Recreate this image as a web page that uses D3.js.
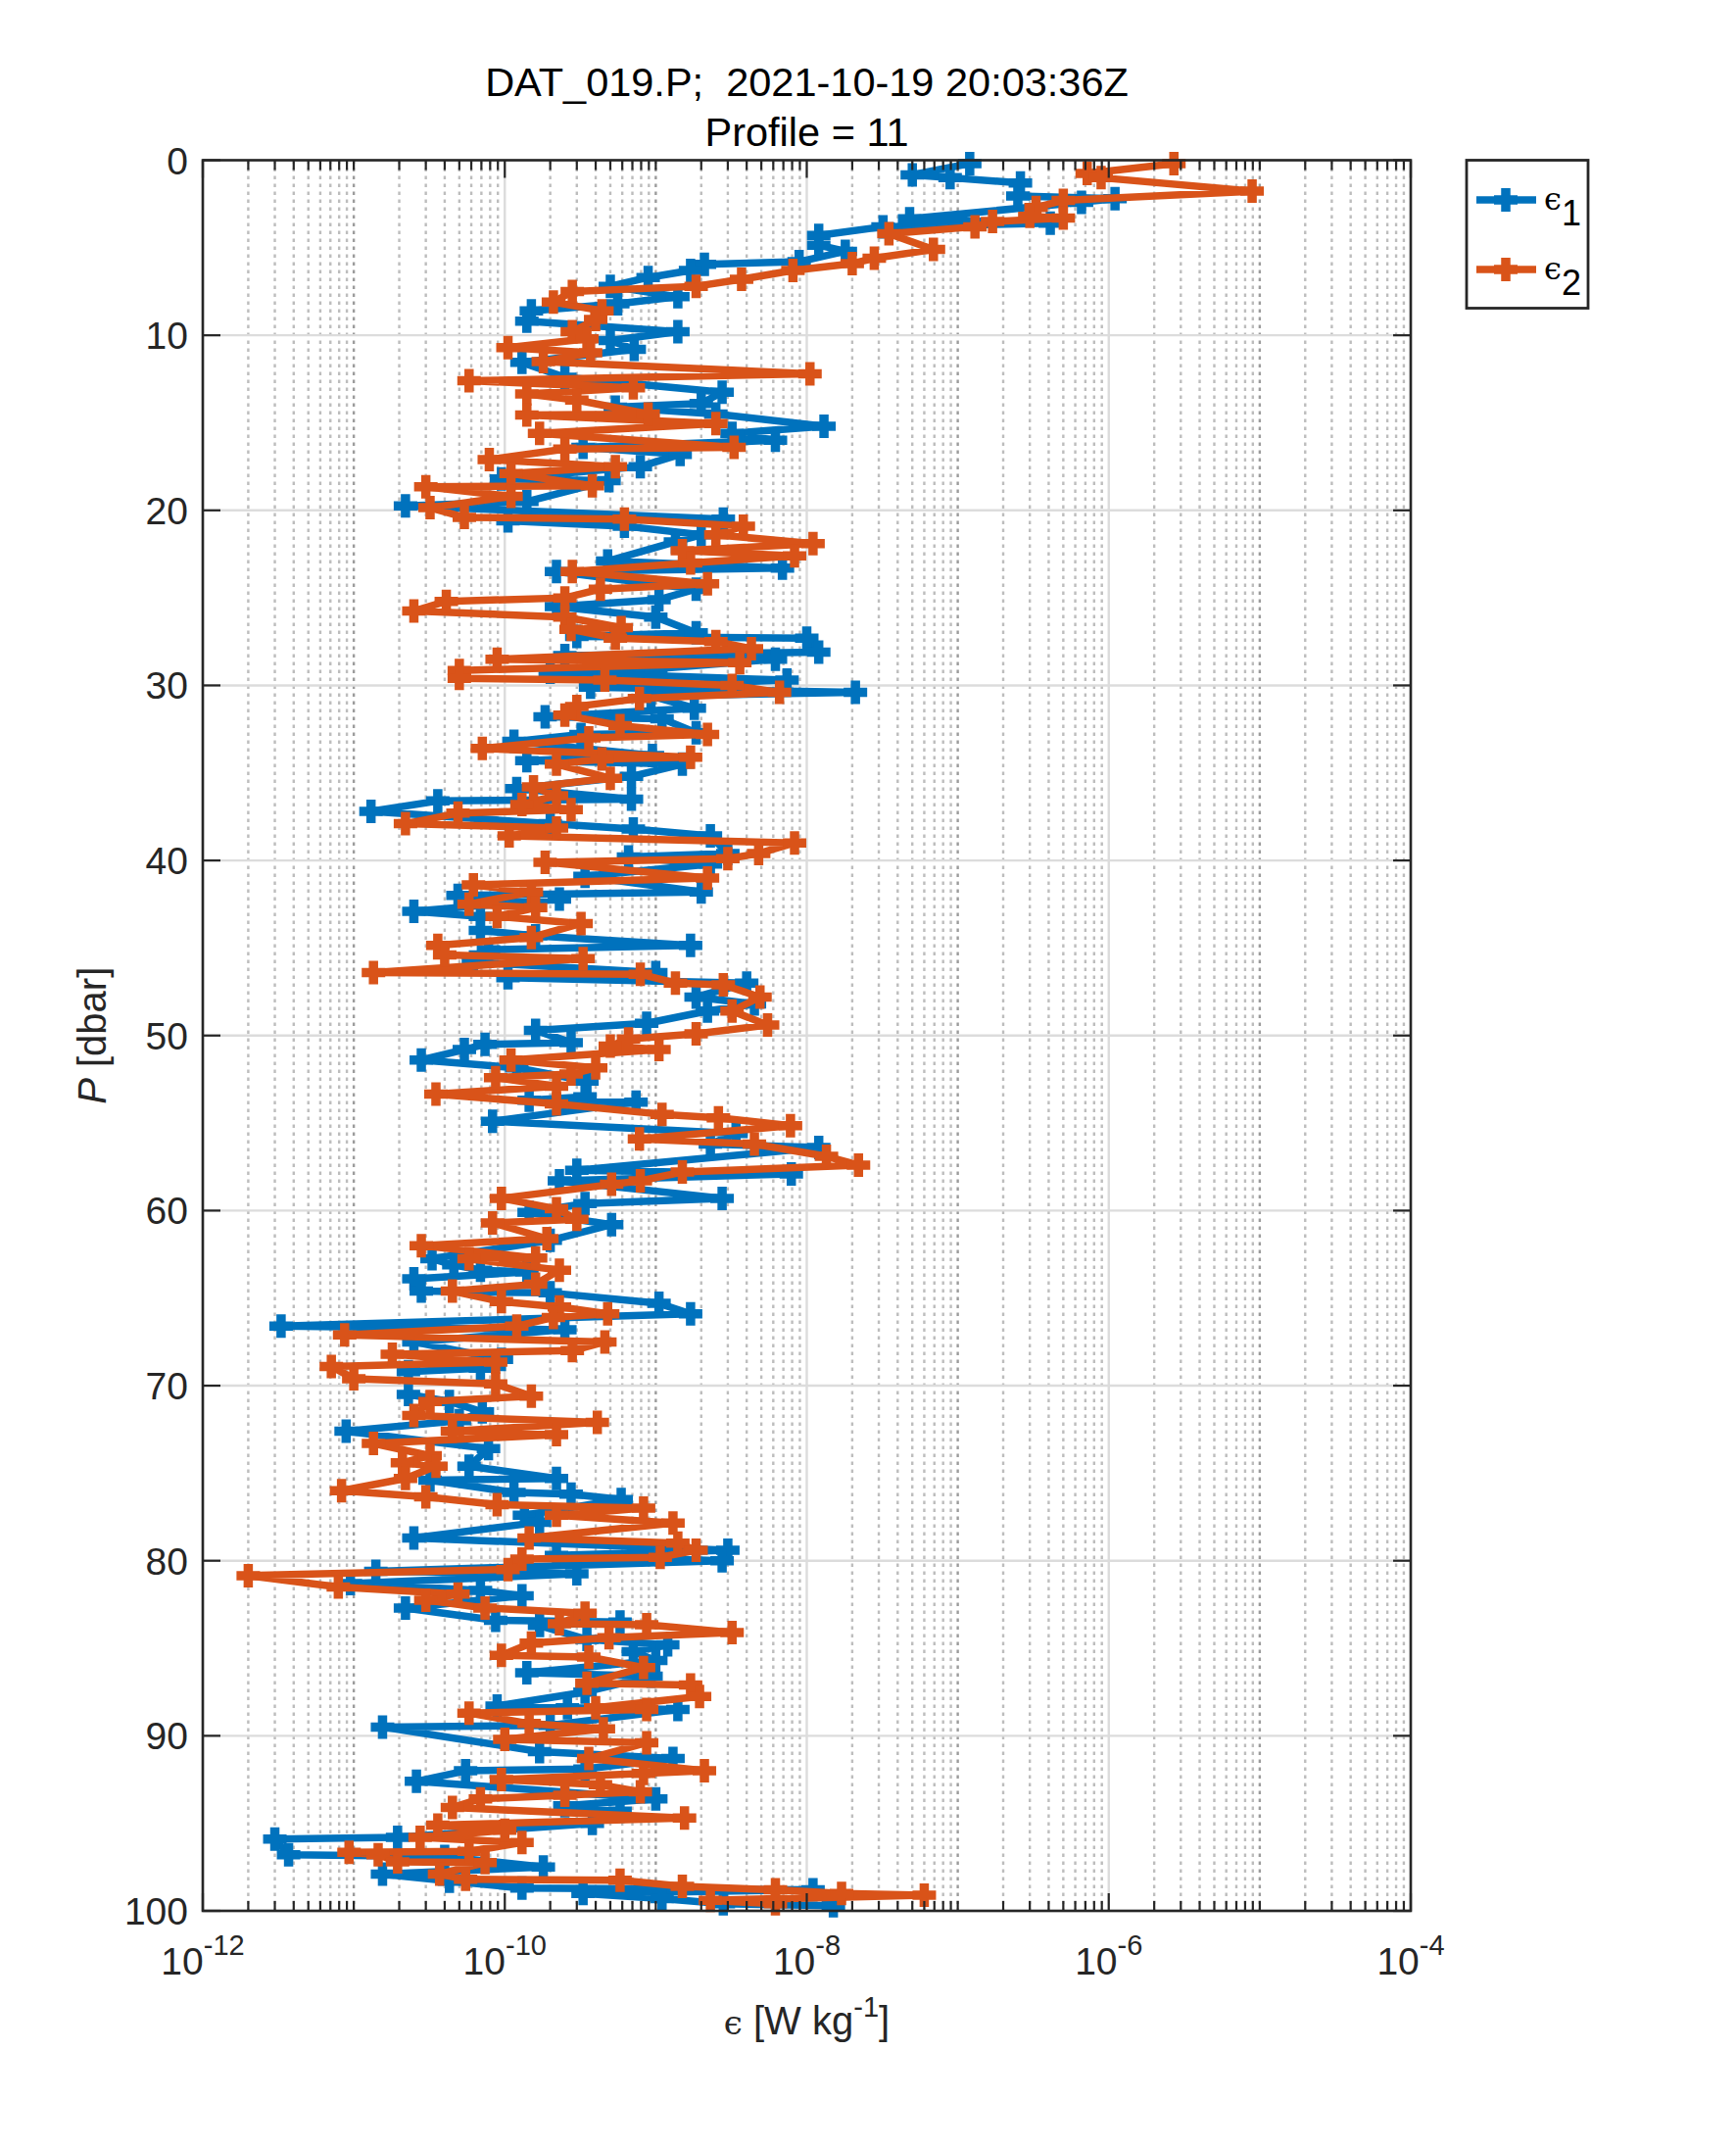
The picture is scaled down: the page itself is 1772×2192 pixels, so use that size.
<!DOCTYPE html>
<html><head><meta charset="utf-8">
<script src="https://cdn.jsdelivr.net/npm/d3@7"></script>
<style>html,body{margin:0;padding:0;background:#fff;} svg{display:block;font-family:"Liberation Sans",Arial,Helvetica,sans-serif;}</style>
</head><body>
<script>
// ---- data ----
const pressure1 = [0.19,0.84,1.0,1.3,2.05,2.2,2.4,3.35,3.6,3.8,4.3,4.85,5.2,5.8,5.95,6.3,6.7,7.2,7.8,8.2,8.6,9.2,9.8,10.3,10.8,11.55,12.4,13.25,13.9,14.1,14.5,15.2,15.6,16.0,16.4,16.8,17.5,18.2,18.3,19.5,19.75,20.5,20.6,20.9,21.4,21.8,22.9,23.3,23.5,24.5,25.1,25.5,26.1,27.0,27.2,27.3,28.1,28.3,28.5,29.05,29.25,29.7,30.1,30.4,30.6,31.3,31.8,31.9,32.7,32.8,33.2,34.0,34.3,34.5,35.2,35.9,36.5,36.6,37.2,37.9,38.2,38.6,39.6,39.8,40.2,40.9,41.8,42.0,42.2,42.9,43.2,44.0,44.3,44.85,45.1,45.8,46.4,46.7,47.0,47.8,48.2,48.6,49.3,49.7,50.4,50.5,50.8,51.4,51.85,52.6,53.5,53.7,53.8,54.9,55.6,56.2,56.4,57.7,57.9,58.3,59.3,59.6,60.1,60.8,61.7,62.75,63.1,63.4,63.5,63.9,64.6,64.7,65.3,65.9,66.6,66.8,67.5,68.5,69.0,69.2,70.5,70.9,71.5,72.0,72.6,73.6,74.6,75.3,75.4,76.1,76.2,76.5,77.4,77.8,78.7,79.4,79.7,80.0,80.6,80.75,81.3,81.7,82.0,82.7,83.4,83.5,83.7,84.5,84.8,85.2,85.7,86.4,86.6,87.5,88.3,88.4,88.5,89.4,89.5,90.9,91.3,91.9,92.0,92.6,93.6,94.0,94.3,95.0,95.8,95.9,96.8,96.9,97.5,97.9,98.3,98.7,98.8,99.0,99.3,99.6,99.7];
const epsilon1 = [1.2e-7,5.0e-8,8.9e-8,2.6e-7,2.5e-7,1.1e-6,6.6e-7,4.8e-8,4.1e-7,3.2e-8,1.2e-8,1.2e-8,1.8e-8,8.9e-9,2.1e-9,1.7e-9,8.9e-10,5.0e-10,1.4e-9,5.6e-10,1.5e-10,1.4e-10,1.4e-9,5.0e-10,7.2e-10,1.3e-10,2.5e-10,2.75e-9,2.0e-9,5.4e-10,2.5e-9,1.3e-8,3.2e-9,6.2e-9,3.3e-10,1.45e-9,7.9e-10,9.5e-11,4.9e-10,1.4e-10,2.2e-11,2.8e-9,1.05e-10,6.2e-10,2.0e-9,1.35e-9,4.8e-10,6.9e-9,2.2e-10,1.85e-9,1.05e-9,2.2e-10,1.0e-9,1.85e-9,3.0e-10,1.0e-8,1.2e-8,2.5e-10,6.2e-9,1.0e-9,2.0e-10,7.4e-9,3.7e-10,2.1e-8,9.3e-10,1.8e-9,1.85e-10,1.1e-9,1.85e-9,3.2e-10,1.15e-10,9.5e-10,1.4e-10,1.5e-9,6.9e-10,1.2e-10,6.9e-10,3.6e-11,1.3e-11,2.0e-10,7.1e-10,2.3e-9,3.0e-9,6.6e-10,2.3e-9,3.4e-10,2.0e-9,4.9e-11,2.3e-10,2.5e-11,6.9e-11,6.9e-11,1.6e-10,1.7e-9,7.8e-11,6.2e-11,1.0e-9,1.05e-10,4.0e-9,1.85e-9,4.5e-9,2.2e-9,8.7e-10,1.6e-10,2.75e-10,7.4e-11,5.4e-11,2.8e-11,1.2e-10,3.5e-10,3.4e-10,1.45e-10,7.4e-10,8.3e-11,3.4e-9,2.3e-9,1.2e-8,3.0e-10,7.9e-9,2.3e-10,2.75e-9,3.4e-10,1.45e-10,5.1e-10,2.0e-10,3.3e-11,4.6e-11,6.9e-11,1.4e-10,2.5e-11,2.8e-11,2.0e-10,1.05e-9,1.7e-9,3.3e-12,2.5e-10,2.5e-11,9.5e-11,6.9e-11,2.3e-11,2.3e-11,4.3e-11,7.1e-11,5.0e-11,8.9e-12,7.8e-11,5.8e-11,2.2e-10,3.2e-11,1.15e-10,2.75e-10,5.9e-10,1.35e-10,1.7e-10,2.5e-11,3.0e-9,2.2e-10,2.75e-9,1.4e-11,3.0e-10,9.5e-12,6.9e-11,1.3e-10,2.2e-11,8.7e-11,5.8e-10,1.7e-10,3.5e-10,1.2e-9,7.1e-10,1.0e-9,1.4e-10,9.3e-10,3.4e-10,8.9e-11,2.6e-10,1.4e-9,2.0e-10,1.55e-11,1.7e-10,1.3e-9,3.4e-10,5.5e-11,2.6e-11,1.0e-9,2.5e-10,5.8e-10,3.8e-10,1.95e-11,3.0e-12,3.7e-12,4.0e-11,1.8e-10,1.55e-11,4.3e-11,1.3e-10,1.1e-8,3.3e-10,1.1e-9,2.8e-9,1.5e-8];

const pressure2 = [0.2,0.75,1.0,1.77,2.3,2.7,3.2,3.3,3.5,3.8,4.2,5.1,5.6,5.9,6.3,6.8,7.2,7.5,8.1,8.6,9.1,9.8,10.2,10.7,11.0,11.5,12.2,12.6,13.0,13.35,13.7,14.5,14.55,15.05,15.6,16.4,16.5,17.1,17.5,17.9,18.6,18.65,19.2,19.85,20.4,20.5,20.9,21.4,21.9,22.3,22.6,23.0,23.5,24.2,24.5,25.0,25.2,25.75,26.1,26.7,26.8,27.3,27.5,27.9,28.5,28.7,29.15,29.6,29.7,30.0,30.4,30.75,31.2,31.7,32.3,32.8,33.0,33.6,34.1,34.2,34.5,35.3,35.8,36.3,36.8,37.1,37.3,37.9,38.15,38.6,39.0,39.6,39.9,40.1,41.0,41.4,41.8,42.5,42.7,43.2,43.6,44.4,44.85,45.4,45.6,46.4,46.5,47.0,47.1,47.8,48.6,49.4,49.9,50.2,50.6,50.8,51.4,51.85,52.2,52.4,52.9,53.35,53.9,54.5,54.7,55.15,55.9,56.2,56.9,57.4,57.8,58.3,58.5,59.3,59.9,60.5,60.7,61.6,62.0,62.7,62.75,63.4,64.2,64.6,65.2,65.5,65.9,66.1,66.6,67.1,67.5,68.0,68.2,68.65,68.9,69.6,69.9,70.6,70.9,71.7,72.1,72.6,72.8,73.3,74.0,74.4,74.6,75.3,76.0,76.35,76.8,77.0,77.4,77.85,78.7,79.0,79.4,79.8,79.9,80.5,80.85,81.5,81.9,82.25,82.7,83.0,83.6,83.65,84.1,84.4,84.7,85.4,85.5,86.1,87.0,87.1,87.75,88.4,88.5,88.7,89.3,89.6,90.2,90.4,91.3,92.0,92.15,92.5,92.8,93.2,93.4,93.6,94.1,94.7,95.1,95.4,95.8,96.1,96.6,96.65,96.8,97.2,97.25,97.9,98.2,98.25,98.6,98.8,99.0,99.1,99.4,99.6];
const epsilon2 = [2.7e-6,7.2e-7,8.9e-7,8.9e-6,5.0e-7,3.3e-7,3.0e-7,5.0e-7,1.7e-7,1.3e-7,3.5e-8,6.9e-8,2.8e-8,2.0e-8,8.1e-9,3.7e-9,1.85e-9,2.8e-10,2.1e-10,4.4e-10,4.0e-10,2.8e-10,3.5e-10,1.05e-10,3.7e-10,1.8e-10,1.05e-8,5.8e-11,7.1e-10,1.4e-10,3.0e-10,8.9e-10,1.4e-10,2.5e-9,1.7e-10,3.3e-9,2.5e-10,7.9e-11,5.4e-10,1.1e-10,3.8e-10,3.0e-11,1.1e-10,3.2e-11,5.4e-11,6.2e-10,3.8e-9,2.5e-9,1.1e-8,1.5e-9,8.3e-9,1.7e-9,2.8e-10,2.2e-9,4.3e-10,2.5e-10,4.1e-11,2.5e-11,2.5e-10,5.9e-10,2.75e-10,5.4e-10,2.5e-9,4.3e-9,8.9e-11,3.6e-9,5.0e-11,5.0e-11,4.6e-10,3.2e-9,6.6e-9,7.8e-10,3.0e-10,2.5e-10,5.8e-10,2.2e-9,3.6e-10,7.1e-11,1.7e-9,4.4e-10,2.2e-10,5.0e-10,1.55e-10,2.2e-10,1.3e-10,2.75e-10,4.9e-11,2.2e-11,2.2e-10,1.07e-10,8.3e-9,4.8e-9,3.0e-9,1.85e-10,2.2e-9,6.2e-11,1.5e-10,5.8e-11,1.6e-10,8.9e-11,3.2e-10,1.5e-10,3.6e-11,4.0e-11,3.3e-10,1.35e-11,7.9e-10,1.35e-9,2.8e-9,4.9e-9,3.2e-9,5.5e-9,1.85e-9,6.6e-10,5.0e-10,1.05e-9,1.1e-10,4.0e-10,2.75e-10,8.7e-11,2.2e-10,3.5e-11,2.2e-10,1.1e-9,2.6e-9,7.8e-9,7.8e-10,4.5e-9,1.35e-8,2.2e-8,1.5e-9,7.9e-10,5.1e-10,9.5e-11,2.2e-10,3.0e-10,8.3e-11,1.9e-10,2.8e-11,1.6e-10,5.8e-11,2.3e-10,1.6e-10,4.5e-11,9.5e-11,2.3e-10,4.8e-10,2.1e-10,1.2e-10,8.7e-12,4.6e-10,2.8e-10,1.8e-11,8.7e-11,7.1e-12,1.0e-11,8.7e-11,1.5e-10,3.2e-11,2.5e-11,4.1e-10,4.5e-11,2.2e-10,1.35e-11,3.2e-11,2.1e-11,3.5e-11,2.2e-11,8.3e-12,3.0e-11,8.9e-11,8.3e-10,2.2e-10,1.3e-9,1.45e-10,1.4e-9,1.85e-9,1.07e-9,1.3e-10,1.05e-10,2.0e-12,7.9e-12,4.9e-11,3.0e-11,7.4e-11,3.4e-10,2.3e-10,8.7e-10,3.2e-9,4.9e-10,1.5e-10,9.5e-11,3.6e-10,8.3e-10,3.5e-10,1.7e-9,1.95e-9,4.0e-10,8.7e-10,5.8e-11,1.45e-10,4.5e-10,1.0e-10,8.7e-10,3.6e-10,2.1e-9,8.3e-10,9.5e-11,4.3e-10,7.9e-10,2.5e-10,6.9e-11,4.5e-11,1.55e-9,3.6e-11,1.0e-10,2.75e-11,1.3e-10,5.8e-11,9.3e-12,1.45e-11,1.95e-11,7.4e-11,3.7e-11,5.5e-11,5.8e-10,1.5e-9,6.2e-9,1.7e-8,6.0e-8,2.3e-9,6.2e-9];

const seriesNames = ["1", "2"];
const yTickValues = [0,10,20,30,40,50,60,70,80,90,100];
const xTickExponents = [-12,-10,-8,-6,-4];
const xDomain = [1e-12, 1e-4];
const yDomain = [0, 100];
const titleLine1 = "DAT_019.P;  2021-10-19 20:03:36Z";
const titleLine2 = "Profile = 11";

// ---- layout ----
const W = 1772, H = 2192;
const L = 207, R = 1440, T = 163.5, B = 1950;
const colors = ["#0072BD", "#D95319"];
const axisColor = "#262626";
const lineW = 7.5, markW = 9.5;

const svg = d3.select("body").append("svg").attr("width", W).attr("height", H);

const x = d3.scaleLog().domain(xDomain).range([L, R]);
const y = d3.scaleLinear().domain(yDomain).range([T, B]);

const minorVals = [];
for (let e = -12; e < -4; e++) {
  for (let m = 1; m <= 9; m++) {
    if (m === 1 && e % 2 === 0) continue;
    minorVals.push({v: m * Math.pow(10, e), odd: m === 1});
  }
}
const majorVals = xTickExponents.map(e => Math.pow(10, e));

const grid = svg.append("g");
grid.selectAll("line.minor").data(minorVals).enter().append("line")
  .attr("x1", d => x(d.v)).attr("x2", d => x(d.v)).attr("y1", T).attr("y2", B)
  .attr("stroke", d => d.odd ? "#9c9c9c" : "#bdbdbd").attr("stroke-width", 2.4)
  .attr("stroke-dasharray", "3.5,4.5");
grid.selectAll("line.major").data(majorVals).enter().append("line")
  .attr("x1", d => x(d)).attr("x2", d => x(d)).attr("y1", T).attr("y2", B)
  .attr("stroke", "#dcdcdc").attr("stroke-width", 2.4);
grid.selectAll("line.hy").data(yTickValues).enter().append("line")
  .attr("x1", L).attr("x2", R).attr("y1", d => y(d)).attr("y2", d => y(d))
  .attr("stroke", "#dcdcdc").attr("stroke-width", 2.4);

// ---- series ----
const line = d3.line().x(d => x(d[1])).y(d => y(d[0]));
const plusPath = "M-12,0H12M0,-12V12";
const series = [d3.zip(pressure1, epsilon1), d3.zip(pressure2, epsilon2)];
series.forEach((pts, i) => {
  const g = svg.append("g");
  g.append("path").datum(pts).attr("d", line)
    .attr("fill", "none").attr("stroke", colors[i]).attr("stroke-width", lineW)
    .attr("stroke-linejoin", "round");
  g.selectAll("path.m").data(pts).enter().append("path")
    .attr("d", plusPath)
    .attr("transform", d => `translate(${x(d[1])},${y(d[0])})`)
    .attr("stroke", colors[i]).attr("stroke-width", markW).attr("fill", "none");
});

// ---- axes box and ticks ----
const ax = svg.append("g").attr("stroke", axisColor);
ax.append("rect").attr("x", L).attr("y", T).attr("width", R - L).attr("height", B - T)
  .attr("fill", "none").attr("stroke-width", 2.6);
const xt = ax.append("g").attr("stroke-width", 2.2);
majorVals.forEach(v => {
  xt.append("line").attr("x1", x(v)).attr("x2", x(v)).attr("y1", B).attr("y2", B - 18);
  xt.append("line").attr("x1", x(v)).attr("x2", x(v)).attr("y1", T).attr("y2", T + 18);
});
minorVals.forEach(d => {
  xt.append("line").attr("x1", x(d.v)).attr("x2", x(d.v)).attr("y1", B).attr("y2", B - 10);
  xt.append("line").attr("x1", x(d.v)).attr("x2", x(d.v)).attr("y1", T).attr("y2", T + 10);
});
yTickValues.forEach(v => {
  xt.append("line").attr("x1", L).attr("x2", L + 18).attr("y1", y(v)).attr("y2", y(v));
  xt.append("line").attr("x1", R).attr("x2", R - 18).attr("y1", y(v)).attr("y2", y(v));
});

svg.append("g").selectAll("text").data(yTickValues).enter().append("text")
  .attr("x", L - 15).attr("y", d => y(d)).attr("dy", "0.36em")
  .attr("text-anchor", "end").attr("font-size", 39).attr("fill", axisColor)
  .text(d => d);

xTickExponents.forEach(e => {
  const t = svg.append("text").attr("x", x(Math.pow(10, e))).attr("y", 2015)
    .attr("text-anchor", "middle").attr("font-size", 39).attr("fill", axisColor);
  t.append("tspan").text("10");
  t.append("tspan").attr("font-size", 29).attr("dy", -20).text("-" + Math.abs(e));
});

svg.append("text").attr("x", (L + R) / 2).attr("y", 98).attr("text-anchor", "middle")
  .attr("font-size", 41.5).attr("fill", "#000").attr("xml:space", "preserve").text(titleLine1);
svg.append("text").attr("x", (L + R) / 2).attr("y", 149).attr("text-anchor", "middle")
  .attr("font-size", 41.5).attr("fill", "#000").text(titleLine2);

const yl = svg.append("text").attr("transform", `translate(108,${(T + B) / 2}) rotate(-90)`)
  .attr("text-anchor", "middle").attr("font-size", 40).attr("fill", axisColor);
yl.append("tspan").attr("font-style", "italic").text("P");
yl.append("tspan").text(" [dbar]");

const xl = svg.append("text").attr("x", (L + R) / 2).attr("y", 2076)
  .attr("text-anchor", "middle").attr("font-size", 40).attr("fill", axisColor);
xl.append("tspan").attr("font-family", "DejaVu Serif").attr("font-size", 34).text("\u03F5");
xl.append("tspan").text(" [W kg");
xl.append("tspan").attr("font-size", 29).attr("dy", -18).text("-1");
xl.append("tspan").attr("dy", 18).text("]");

const lg = svg.append("g");
lg.append("rect").attr("x", 1497).attr("y", 163.5).attr("width", 124).attr("height", 151)
  .attr("fill", "#fff").attr("stroke", axisColor).attr("stroke-width", 2.8);
seriesNames.forEach((n, i) => {
  const ly = 204 + i * 71;
  lg.append("line").attr("x1", 1507).attr("x2", 1568).attr("y1", ly).attr("y2", ly)
    .attr("stroke", colors[i]).attr("stroke-width", lineW);
  lg.append("path").attr("d", plusPath).attr("transform", `translate(1537,${ly})`)
    .attr("stroke", colors[i]).attr("stroke-width", markW).attr("fill", "none");
  const t = lg.append("text").attr("x", 1576).attr("y", ly + 10).attr("font-size", 40).attr("fill", "#000");
  t.append("tspan").attr("font-family", "DejaVu Serif").attr("font-size", 32).text("\u03F5");
  t.append("tspan").attr("font-size", 36).attr("dy", 16).text(n);
});
</script>
</body></html>
